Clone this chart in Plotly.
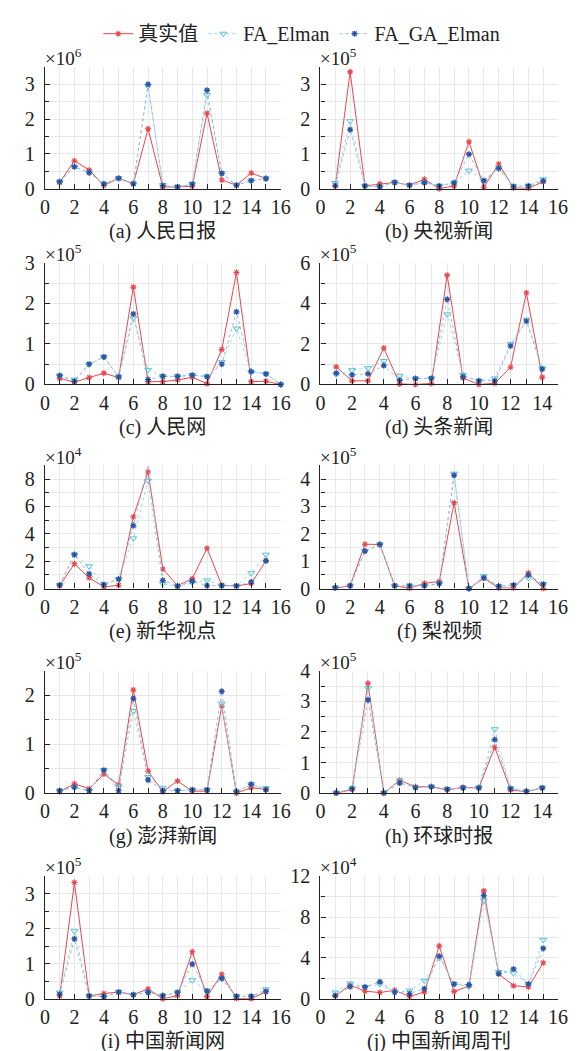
import plotly.graph_objects as go

# ---------------- data (values in units of 10^exp) ----------------
captions = ["(a) 人民日报", "(b) 央视新闻", "(c) 人民网", "(d) 头条新闻", "(e) 新华视点",
            "(f) 梨视频", "(g) 澎湃新闻", "(h) 环球时报", "(i) 中国新闻网", "(j) 中国新闻周刊"]
exponents = [6, 5, 5, 5, 4, 5, 5, 5, 5, 4]
series_names = ["真实值", "FA_Elman", "FA_GA_Elman"]

real_a = [0.18, 0.80, 0.54, 0.09, 0.30, 0.14, 1.72, 0.05, 0.05, 0.07, 2.17, 0.25, 0.10, 0.45, 0.29]
fa_a   = [0.20, 0.63, 0.46, 0.14, 0.30, 0.14, 2.95, 0.10, 0.05, 0.13, 2.69, 0.44, 0.10, 0.23, 0.29]
fga_a  = [0.20, 0.63, 0.46, 0.14, 0.30, 0.14, 3.00, 0.09, 0.05, 0.13, 2.83, 0.44, 0.10, 0.23, 0.29]

real_b = [0.08, 3.36, 0.08, 0.14, 0.18, 0.10, 0.27, 0.00, 0.08, 1.35, 0.04, 0.71, 0.02, 0.01, 0.20]
fa_b   = [0.16, 1.94, 0.08, 0.05, 0.18, 0.10, 0.17, 0.08, 0.17, 0.52, 0.23, 0.60, 0.08, 0.08, 0.27]
fga_b  = [0.09, 1.70, 0.08, 0.05, 0.18, 0.10, 0.17, 0.08, 0.17, 0.99, 0.23, 0.58, 0.06, 0.08, 0.22]

real_c = [0.15, 0.06, 0.17, 0.28, 0.17, 2.40, 0.07, 0.07, 0.11, 0.18, 0.02, 0.86, 2.76, 0.07, 0.08, 0.00]
fa_c   = [0.22, 0.12, 0.50, 0.68, 0.19, 1.63, 0.36, 0.20, 0.20, 0.23, 0.20, 0.55, 1.38, 0.30, 0.26, 0.00]
fga_c  = [0.22, 0.08, 0.50, 0.68, 0.19, 1.74, 0.12, 0.20, 0.20, 0.23, 0.19, 0.50, 1.79, 0.32, 0.26, 0.00]

real_d = [0.87, 0.18, 0.18, 1.80, 0.03, 0.00, 0.05, 5.39, 0.32, 0.00, 0.06, 0.85, 4.52, 0.35]
fa_d   = [0.50, 0.72, 0.80, 1.16, 0.43, 0.29, 0.30, 3.46, 0.48, 0.18, 0.30, 2.00, 3.20, 0.80]
fga_d  = [0.56, 0.47, 0.53, 0.93, 0.21, 0.29, 0.30, 4.20, 0.39, 0.18, 0.18, 1.90, 3.12, 0.76]

real_e = [0.21, 1.81, 0.79, 0.12, 0.24, 5.25, 8.52, 1.43, 0.21, 0.72, 2.94, 0.24, 0.19, 0.36, 2.03]
fa_e   = [0.26, 2.48, 1.62, 0.29, 0.69, 3.67, 7.88, 0.36, 0.12, 0.45, 0.60, 0.21, 0.19, 1.12, 2.48]
fga_e  = [0.26, 2.48, 1.07, 0.29, 0.69, 4.60, 9.02, 0.60, 0.17, 0.53, 0.21, 0.21, 0.19, 0.48, 2.03]

real_f = [0.02, 0.10, 1.62, 1.61, 0.10, 0.01, 0.19, 0.26, 3.14, 0.00, 0.38, 0.02, 0.02, 0.57, 0.00]
fa_f   = [0.03, 0.10, 1.37, 1.61, 0.10, 0.10, 0.10, 0.18, 4.20, 0.00, 0.45, 0.08, 0.13, 0.39, 0.16]
fga_f  = [0.03, 0.10, 1.37, 1.61, 0.10, 0.10, 0.10, 0.18, 4.14, 0.00, 0.39, 0.08, 0.13, 0.49, 0.16]

real_g = [0.03, 0.19, 0.09, 0.39, 0.17, 2.11, 0.45, 0.03, 0.25, 0.04, 0.04, 1.78, 0.00, 0.11, 0.08]
fa_g   = [0.05, 0.12, 0.05, 0.47, 0.13, 1.68, 0.33, 0.11, 0.05, 0.07, 0.07, 1.83, 0.03, 0.18, 0.10]
fga_g  = [0.05, 0.12, 0.05, 0.47, 0.05, 1.93, 0.27, 0.05, 0.05, 0.07, 0.07, 2.08, 0.03, 0.18, 0.07]

real_h = [0.00, 0.12, 3.59, 0.00, 0.42, 0.21, 0.21, 0.10, 0.19, 0.17, 1.50, 0.10, 0.05, 0.17]
fa_h   = [0.01, 0.15, 3.43, 0.01, 0.40, 0.18, 0.21, 0.13, 0.17, 0.18, 2.09, 0.15, 0.06, 0.17]
fga_h  = [0.01, 0.15, 3.05, 0.01, 0.33, 0.18, 0.21, 0.13, 0.17, 0.18, 1.75, 0.15, 0.06, 0.17]

real_i = [0.08, 3.32, 0.08, 0.15, 0.19, 0.12, 0.28, 0.00, 0.09, 1.34, 0.06, 0.70, 0.01, 0.00, 0.20]
fa_i   = [0.18, 1.93, 0.08, 0.06, 0.19, 0.11, 0.18, 0.09, 0.18, 0.53, 0.22, 0.58, 0.07, 0.07, 0.27]
fga_i  = [0.13, 1.71, 0.08, 0.06, 0.19, 0.11, 0.18, 0.09, 0.18, 0.99, 0.22, 0.58, 0.07, 0.07, 0.21]

real_j = [0.26, 1.34, 0.74, 0.61, 0.83, 0.22, 0.67, 5.18, 0.70, 1.25, 10.56, 2.43, 1.28, 1.15, 3.52]
fa_j   = [0.61, 1.50, 1.15, 1.44, 0.64, 0.80, 1.76, 4.00, 1.44, 1.18, 9.63, 2.62, 2.50, 1.44, 5.76]
fga_j  = [0.32, 1.18, 1.15, 1.66, 0.64, 0.51, 0.99, 4.16, 1.44, 1.38, 10.11, 2.46, 2.91, 1.44, 4.93]

x_ticks = [0, 2, 4, 6, 8, 10, 12, 14, 16]

panels_data = [
    (real_a, fa_a, fga_a), (real_b, fa_b, fga_b), (real_c, fa_c, fga_c), (real_d, fa_d, fga_d),
    (real_e, fa_e, fga_e), (real_f, fa_f, fga_f), (real_g, fa_g, fga_g), (real_h, fa_h, fga_h),
    (real_i, fa_i, fga_i), (real_j, fa_j, fga_j),
]

# ---------------- styling / layout ----------------
W, H = 579, 1051
NUMFONT = "Liberation Serif"
TXTFONT = "Liberation Serif, Noto Sans CJK SC"
row_px = [(49.0, 173.3), (249.0, 373.3), (456.0, 581.7), (665.7, 790.7), (875.5, 1000.7)]
col_px = [(32.8, 274.8), (315.6, 559.6)]
y_max = [3.5, 3.5, 3.0, 6.0, 9.0, 4.5, 2.5, 4.0, 3.5, 12.0]
y_dtick = [1, 1, 1, 2, 2, 1, 1, 1, 1, 4]
x_max = [16, 16, 16, 15, 16, 16, 16, 15, 16, 16]

styles = [
    dict(line=dict(color="#e8464c", width=1),
         marker=dict(symbol="asterisk-open", size=5, color="#e8464c", line=dict(color="#e8464c", width=1.1))),
    dict(line=dict(color="#9cdbe6", width=1, dash="dot"),
         marker=dict(symbol="triangle-down-open", size=6, color="#52c3d4", line=dict(color="#52c3d4", width=1))),
    dict(line=dict(color="#9db6e0", width=1, dash="dot"),
         marker=dict(symbol="asterisk-open", size=5, color="#2a55a5", line=dict(color="#2a55a5", width=1.3))),
]

fig = go.Figure()
layout = dict(
    width=W, height=H, autosize=False,
    margin=dict(l=0, r=0, t=0, b=0),
    paper_bgcolor="white", plot_bgcolor="white",
    font=dict(family=TXTFONT, size=18, color="#222"),
    showlegend=True,
    legend=dict(orientation="h", x=0.512, xanchor="center", y=1 - 15 / H, yanchor="middle",
                font=dict(family=TXTFONT, size=20, color="#222"), bgcolor="rgba(0,0,0,0)",
                itemwidth=30, tracegroupgap=0),
)
annotations = []

for k, (series, cap, ex) in enumerate(zip(panels_data, captions, exponents)):
    r, c = divmod(k, 2)
    top, bot = row_px[r]
    left, right = col_px[c]
    xs = list(range(1, len(series[0]) + 1))
    xa = "x" if k == 0 else f"x{k+1}"
    ya = "y" if k == 0 else f"y{k+1}"
    for s, (vals, name, st) in enumerate(zip(series, series_names, styles)):
        fig.add_trace(go.Scatter(x=xs, y=vals, mode="lines+markers", name=name,
                                 xaxis=xa, yaxis=ya, showlegend=(k == 0),
                                 line=st["line"], marker=st["marker"], cliponaxis=False))
    grid = "#e8e8e8"
    layout["xaxis" if k == 0 else f"xaxis{k+1}"] = dict(
        domain=[left / W, right / W], anchor=ya, range=[0, x_max[k]],
        tickvals=[t for t in x_ticks if t <= x_max[k]], ticks="inside", ticklen=5, tickwidth=1,
        tickcolor="#222", showline=True, linecolor="#222", linewidth=1.3,
        showgrid=True, gridcolor=grid, gridwidth=1, zeroline=False,
        minor=dict(dtick=1, tick0=0, ticks="inside", ticklen=5, tickcolor="#222",
                   showgrid=True, gridcolor=grid, gridwidth=1),
        tickfont=dict(family=NUMFONT, size=20, color="#222"), fixedrange=True,
    )
    layout["yaxis" if k == 0 else f"yaxis{k+1}"] = dict(
        domain=[1 - bot / H, 1 - top / H], anchor=xa, range=[0, y_max[k]],
        dtick=y_dtick[k], tick0=0, ticks="inside", ticklen=5, tickwidth=1, tickcolor="#222",
        showline=True, linecolor="#222", linewidth=1.3,
        showgrid=True, gridcolor=grid, gridwidth=1, zeroline=False,
        minor=dict(dtick=y_dtick[k] / 2, tick0=0, ticks="inside", ticklen=4, tickcolor="#222",
                   showgrid=True, gridcolor=grid, gridwidth=1),
        tickfont=dict(family=NUMFONT, size=20, color="#222"), ticklabelstandoff=5,
        fixedrange=True,
    )
    # exponent label
    annotations.append(dict(text=f"×10<sup>{ex}</sup>", xref="paper", yref="paper",
                            x=(left - 2) / W, y=1 - (top - 10) / H, xanchor="left", yanchor="middle",
                            showarrow=False, font=dict(family=NUMFONT, size=19, color="#222")))
    # caption
    annotations.append(dict(text=cap, xref="paper", yref="paper",
                            x=(left + right) / 2 / W, y=1 - (bot + 44) / H,
                            xanchor="center", yanchor="middle", showarrow=False,
                            font=dict(family=TXTFONT, size=20, color="#222")))

layout["annotations"] = annotations
fig.update_layout(**layout)
fig.write_html("out.html")
